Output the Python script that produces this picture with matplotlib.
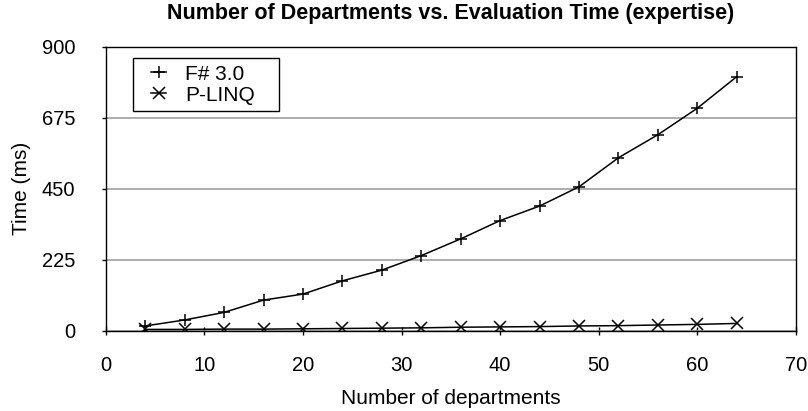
import matplotlib
matplotlib.use('Agg')
import numpy as np
import matplotlib.pyplot as plt
from matplotlib.legend_handler import HandlerLine2D

plt.rcParams['font.family'] = ['Liberation Sans', 'DejaVu Sans']

departments = [4, 8, 12, 16, 20, 24, 28, 32, 36, 40, 44, 48, 52, 56, 60, 64]
fsharp_ms = [15, 34, 58, 97, 116, 158, 192, 238, 291, 349, 395, 456, 548, 621, 705, 805]
plinq_ms = [4, 4, 5, 5, 6, 7, 8, 9, 11, 12, 13, 15, 16, 18, 20, 23]

x_ticks = [0, 10, 20, 30, 40, 50, 60, 70]
y_ticks = [0, 225, 450, 675, 900]


class ShortLineHandler(HandlerLine2D):
    # legend line only as wide as the marker, centred in the handle box
    def get_xdata(self, legend, xdescent, ydescent, width, height, fontsize):
        c = -xdescent + width / 2
        half = 0.36 * fontsize
        return np.array([c - half, c + half]), np.array([c])


fig = plt.figure(figsize=(8.08, 4.11), dpi=100)
ax = fig.add_axes([0.131, 0.1954, 0.854, 0.691])

ax.plot(departments, fsharp_ms, color='black', lw=1.1, marker='+',
        markersize=9, markeredgewidth=1.1, label='F# 3.0')
ax.plot(departments, plinq_ms, color='black', lw=1.1, marker='x',
        markersize=8, markeredgewidth=1.1, label='P-LINQ')

ax.set_xlim(0, 70)
ax.set_ylim(0, 900)
ax.set_xticks(x_ticks)
ax.set_yticks(y_ticks)
ax.yaxis.grid(True, color='#a0a0a0', lw=1.2)
ax.set_axisbelow(True)
ax.tick_params(axis='both', labelsize=14.5, width=1)
ax.tick_params(axis='x', direction='inout', length=6, pad=15)
ax.tick_params(axis='y', direction='out', length=3, pad=19)
for s in ax.spines.values():
    s.set_linewidth(1)

ax.set_xlabel('Number of departments', fontsize=15, labelpad=10)
ax.set_ylabel('Time (ms)', fontsize=15, labelpad=8)
ax.set_title('Number of Departments vs. Evaluation Time (expertise)',
             fontsize=15.5, fontweight='bold', pad=20)

leg = ax.legend(loc='upper left', bbox_to_anchor=(0.039, 0.6, 0.212, 0.359),
                mode='expand', fontsize=15,
                frameon=True, fancybox=False, edgecolor='black',
                borderaxespad=0, handlelength=1.9, handletextpad=0.3,
                borderpad=0.3, labelspacing=0.1,
                handler_map={plt.Line2D: ShortLineHandler()})
leg.get_frame().set_linewidth(1)
leg.get_frame().set_alpha(1)

fig.savefig('out.png', dpi=100)
